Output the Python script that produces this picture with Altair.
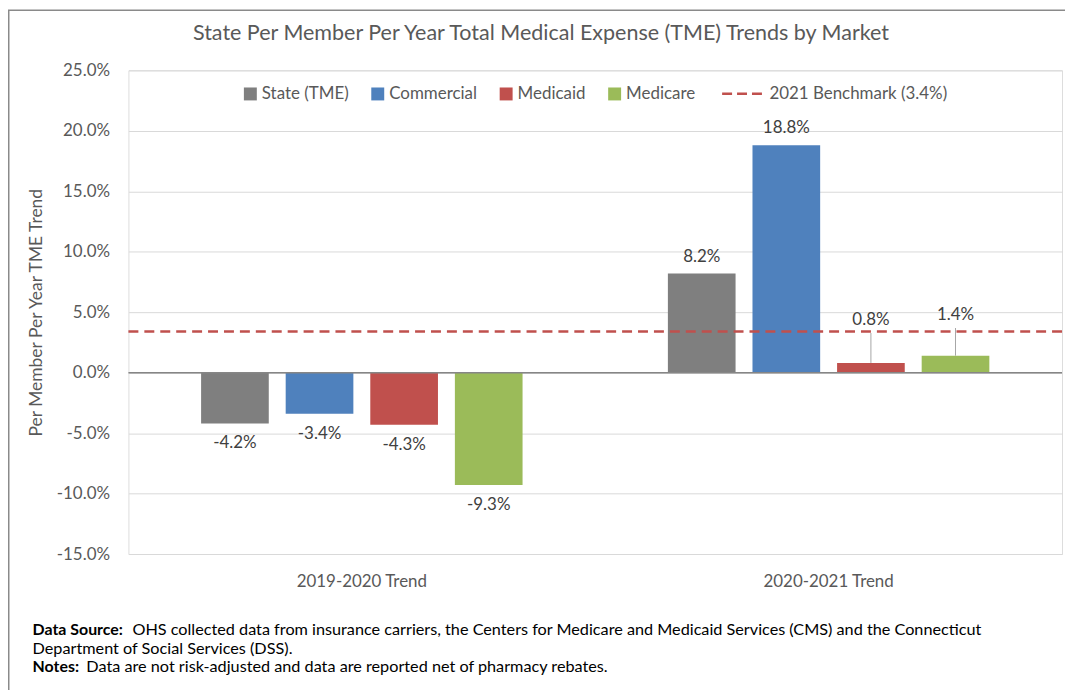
import altair as alt
import pandas as pd

# ---- data ----
groups = ["2019-2020 Trend", "2020-2021 Trend"]
series = ["State (TME)", "Commercial", "Medicaid", "Medicare"]
trend_2019_2020 = [-4.2, -3.4, -4.3, -9.3]
trend_2020_2021 = [8.2, 18.8, 0.8, 1.4]
benchmark_value = 3.4
benchmark_name = "2021 Benchmark (3.4%)"
title_text = "State Per Member Per Year Total Medical Expense (TME) Trends by Market"

colors = ["#7f7f7f", "#4f81bd", "#c0504d", "#9bbb59"]
FONT = "Lato"
GREY_TXT = "#595959"

# labels that the original moves up above the benchmark line (with a leader line)
raised_label_at = {("2020-2021 Trend", "Medicaid"): 4.36, ("2020-2021 Trend", "Medicare"): 4.77}

rows = []
for g, vals in zip(groups, [trend_2019_2020, trend_2020_2021]):
    for s, v in zip(series, vals):
        lab = ("-" if v < 0 else "") + f"{abs(v):.1f}%"
        ly = raised_label_at.get((g, s))
        rows.append({"group": g, "series": s, "value": v, "label": lab,
                     "raised": ly is not None,
                     "label_y": ly if ly is not None else v,
                     "leader_top": (ly - 1.08) if ly is not None else v})
df = pd.DataFrame(rows)
bench_df = pd.DataFrame({"value": [benchmark_value], "name": [benchmark_name]})
one = pd.DataFrame({"k": [0]})

W, H = 938, 486
LEFT, TOP = 121, 61          # plot origin inside the canvas
PX = LEFT + 8                # plot origin on the page (8px body margin)
PY = TOP + 8

yscale = alt.Scale(domain=[-15, 25], nice=False, zero=False)
yaxis = alt.Axis(values=list(range(-15, 30, 5)),
                 labelExpr="(datum.value < 0 ? '-' : '') + format(abs(datum.value), '.1f') + '%'",
                 grid=True, gridColor="#d9d9d9", gridWidth=1, domain=False, ticks=False,
                 labelPadding=19, labelFontSize=17, labelColor=GREY_TXT, labelFont=FONT,
                 title="Per Member Per Year TME Trend", titleFontSize=17.5, titleColor=GREY_TXT,
                 titleFont=FONT, titleFontWeight="normal", titleX=37 - PX, titleY=H / 2,
                 titleBaseline="middle")
xenc = alt.X("group:N", sort=groups,
             scale=alt.Scale(paddingInner=0.2751, paddingOuter=0.13755),
             axis=alt.Axis(title=None, domain=False, ticks=False, labelAngle=0, labelPadding=20,
                           labelFontSize=17, labelColor=GREY_TXT, labelFont=FONT, grid=False))
xoff = alt.XOffset("series:N", sort=series,
                   scale=alt.Scale(domain=series, paddingInner=0.2, paddingOuter=0.1))


def Y(field):
    return alt.Y(f"{field}:Q", scale=yscale, axis=yaxis)


base = alt.Chart(df)

bars = base.mark_bar().encode(
    x=xenc, xOffset=xoff, y=Y("value"),
    fill=alt.Fill("series:N", scale=alt.Scale(domain=series, range=colors),
                  legend=alt.Legend(title=None, orient="none", legendX=243 - PX, legendY=15,
                                    direction="horizontal", symbolType="square", symbolSize=169,
                                    symbolStrokeWidth=0, labelFontSize=17, labelColor=GREY_TXT,
                                    labelFont=FONT, labelOffset=3, columnPadding=20, labelLimit=300)),
)

zero_rule = alt.Chart(one).mark_rule(color="#868686", strokeWidth=1.5).encode(y=alt.datum(0))

bench = alt.Chart(bench_df).mark_rule(strokeDash=[10, 6], strokeWidth=2.5).encode(
    y=Y("value"),
    stroke=alt.Stroke("name:N", scale=alt.Scale(domain=[benchmark_name], range=["#c0504d"]),
                      legend=alt.Legend(title=None, orient="none", legendX=724 - PX, legendY=2,
                                        symbolType="stroke", symbolSize=1600, symbolStrokeWidth=2.5,
                                        symbolDash=[10, 5], labelFontSize=17, labelColor=GREY_TXT,
                                        labelFont=FONT, labelOffset=6, labelLimit=300)),
)

txt = dict(font=FONT, fontSize=17, color="#404040", baseline="middle", align="center")
pos_labels = base.transform_filter("datum.value >= 0 && !datum.raised").mark_text(dy=-17, **txt).encode(
    x=xenc, xOffset=xoff, y=Y("value"), text="label:N")
neg_labels = base.transform_filter("datum.value < 0").mark_text(dy=20, **txt).encode(
    x=xenc, xOffset=xoff, y=Y("value"), text="label:N")
raised_labels = base.transform_filter("datum.raised").mark_text(**txt).encode(
    x=xenc, xOffset=xoff, y=Y("label_y"), text="label:N")
leaders = base.transform_filter("datum.raised").mark_rule(color="#a6a6a6", strokeWidth=1).encode(
    x=xenc, xOffset=xoff, y=Y("value"), y2="leader_top:Q")

frame = alt.Chart(one).mark_rect(fillOpacity=0, stroke="#8a8a8a", strokeWidth=1.5).encode(
    x=alt.value(8.75 - PX), x2=alt.value(1000), y=alt.value(8.75 - PY), y2=alt.value(700))

title = alt.Chart(one).mark_text(text=title_text, font=FONT, fontSize=21.6, color=GREY_TXT,
                                 align="center", baseline="middle").encode(
    x=alt.value(543.5 - PX), y=alt.value(33 - PY))


def note(text, x, y, bold=False):
    return alt.Chart(one).mark_text(text=text, font=FONT, fontSize=16 if bold else 16.3,
                                    color="#000000", align="left", baseline="middle",
                                    fontWeight="bold" if bold else "normal").encode(
        x=alt.value(x - PX), y=alt.value(y - PY))


notes = [
    note("Data Source:", 32.7, 631, bold=True),
    note("OHS collected data from insurance carriers, the Centers for Medicare and Medicaid Services (CMS) and the Connecticut", 133, 631),
    note("Department of Social Services (DSS).", 32.7, 650),
    note("Notes:", 32.7, 669, bold=True),
    note("Data are not risk-adjusted and data are reported net of pharmacy rebates.", 86.7, 669),
]

chart = alt.layer(bars, zero_rule, bench, leaders, pos_labels, neg_labels, raised_labels,
                  frame, title, *notes).properties(
    width=W, height=H,
    autosize=alt.AutoSizeParams(type="none"),
    padding={"left": LEFT, "top": TOP, "right": 1062 - LEFT - W, "bottom": 682 - TOP - H},
).configure_view(stroke=None).configure(background="white")

chart.save("out.html", embed_options={"renderer": "svg", "actions": False})
